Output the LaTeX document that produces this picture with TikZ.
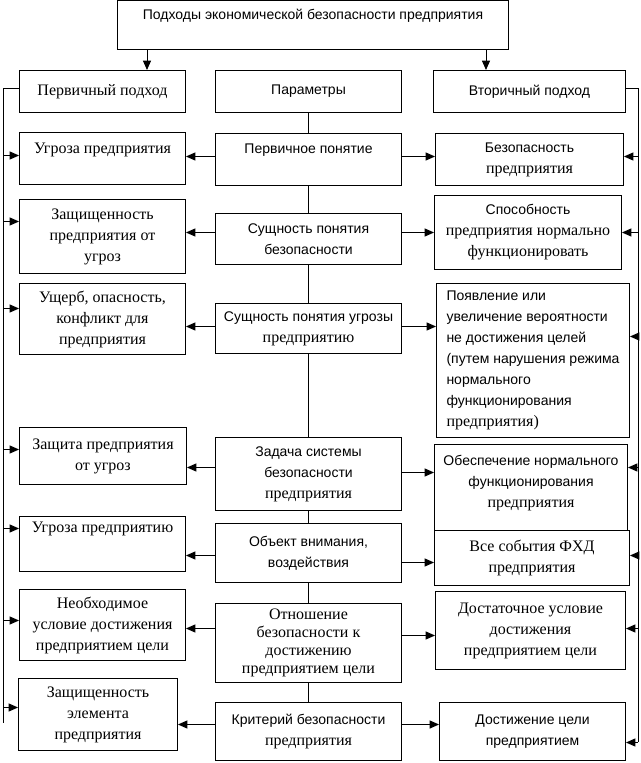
\documentclass[tikz,border=0pt]{standalone}
\usepackage{fontspec}
\setmainfont{Liberation Sans}
\newfontfamily\tms{Liberation Serif}
\usetikzlibrary{arrows.meta,calc}
\newcommand{\tmr}[1]{{\fontsize{12}{15.75}\selectfont\tms #1}}
\tikzset{
  box/.style={draw, fill=white, anchor=north west, inner sep=0pt, align=center},
  sz/.style 2 args={minimum width=#1*0.75pt, minimum height=#2*0.75pt},
  sans/.style={font=\fontsize{10.5}{15.75}\selectfont},
  serif/.style={font=\fontsize{12}{15.75}\selectfont\tms},
  arr/.style={-{Triangle[length=7pt,width=6pt]}},
  rarr/.style={{Triangle[length=7pt,width=6pt]}-},
}
\begin{document}
\begin{tikzpicture}[x=0.75pt, y=-0.75pt, line width=0.75pt]
    \useasboundingbox (0,0) rectangle (641,763);
    % header
    \node [box, sans, sz={391}{48.5}] (top) at (117,0.5) {Подходы экономической безопасности предприятия\\~};
    % first row
    \node [box, serif, sz={166}{42}] (l1) at (19,70) {Первичный подход};
    \node [box, sans, sz={186}{42}] (m1) at (215,70) {Параметры};
    \node [box, sans, sz={192}{42}] (r1) at (433,70) {Вторичный подход};
    % left column
    \node [box, serif, sz={166}{52}] (l2) at (19,132) {Угроза предприятия\\~};
    \node [box, serif, sz={166}{74}] (l3) at (19,199) {Защищенность\\предприятия от\\угроз};
    \node [box, serif, sz={166}{71}] (l4) at (19,283) {Ущерб, опасность,\\конфликт для\\предприятия};
    \node [box, serif, sz={167}{57}] (l5) at (19,427) {Защита предприятия\\от угроз};
    \node [box, serif, sz={166}{55}] (l6) at (19,516) {Угроза предприятию\\[10pt]~};
    \node [box, serif, sz={166}{71}] (l7) at (19,589) {Необходимое\\условие достижения\\предприятием цели};
    \node [box, serif, sz={159}{72}] (l8) at (18,678) {Защищенность\\элемента\\предприятия};
    % middle column
    \node [box, sans, sz={186}{52}] (m2) at (215,133) {Первичное понятие\\~};
    \node [box, sans, sz={186}{51}] (m3) at (215,213) {Сущность понятия\\безопасности};
    \node [box, sans, sz={186}{50}] (m4) at (215,303) {Сущность понятия угрозы\\\tmr{предприятию}};
    \node [box, sans, sz={186}{73}] (m5) at (215,437) {Задача системы\\безопасности\\\tmr{предприятия}};
    \node [box, sans, sz={186}{59}] (m6) at (215,523) {Объект внимания,\\воздействия};
    \node [box, serif, font=\fontsize{12}{13.5}\selectfont\tms, sz={186}{79}] (m7) at (215,603) {Отношение\\безопасности к\\достижению\\предприятием цели};
    \node [box, sans, sz={186}{58}] (m8) at (215,702) {Критерий безопасности\\\tmr{предприятия}};
    % right column
    \node [box, sans, sz={188}{52}] (r2) at (435,133) {Безопасность\\\tmr{предприятия}};
    \node [box, sans, sz={187}{74}] (r3) at (434,195) {Способность\\\tmr{предприятия нормально}\\\tmr{функционировать}};
    \node [box, sans, sz={193}{154}, align=left] (r4) at (436,283) {Появление или\\увеличение вероятности\\не достижения целей\\(путем нарушения режима\\нормального\\функционирования\\\tmr{предприятия)}};
    \node [box, sans, sz={193}{86}] (r5) at (434,444) {Обеспечение нормального\\функционирования\\\tmr{предприятия}\\[-7pt]~};
    \node [box, serif, sz={195}{55}] (r6) at (434,530) {Все события ФХД\\предприятия};
    \node [box, serif, sz={190}{78}] (r7) at (435,591) {Достаточное условие\\достижения\\предприятием цели};
    \node [box, sans, sz={186}{58}] (r8) at (439,702) {Достижение цели\\предприятием};
    % spine
    \draw (m1.south) -- (m2.north) (m2.south) -- (m3.north) (m3.south) -- (m4.north)
          (m4.south) -- (m5.north) (m5.south) -- (m6.north) (m6.south) -- (m7.north)
          (m7.south) -- (m8.north);
    % from header
    \draw[arr] ($(top.south west)+(30,0)$) coordinate (a) -- (a |- l1.north);
    \draw[arr] ($(top.south east)+(-23,0)$) coordinate (a) -- (a |- r1.north);
    % middle to left
    \draw[arr] ($(m2.west)+(0,-3)$) coordinate (a) -- (a -| l2.east);
    \draw[arr] ($(m3.west)+(0,-6.5)$) coordinate (a) -- (a -| l3.east);
    \draw[arr] ($(m4.west)+(0,-2)$) coordinate (a) -- (a -| l4.east);
    \draw[arr] ($(m5.west)+(0,-6.5)$) coordinate (a) -- (a -| l5.east);
    \draw[arr] ($(m6.west)+(0,2.5)$) coordinate (a) -- (a -| l6.east);
    \draw[arr] ($(m7.west)+(0,-14.5)$) coordinate (a) -- (a -| l7.east);
    \draw[arr] ($(m8.west)+(0,-7)$) coordinate (a) -- (a -| l8.east);
    % middle to right
    \draw[arr] ($(m2.east)+(0,-3)$) coordinate (a) -- (a -| r2.west);
    \draw[arr] ($(m3.east)+(0,-6.5)$) coordinate (a) -- (a -| r3.west);
    \draw[arr] ($(m4.east)+(0,-2)$) coordinate (a) -- (a -| r4.west);
    \draw[arr] ($(m5.east)+(0,-1.5)$) coordinate (a) -- (a -| r5.west);
    \draw[arr] ($(m6.east)+(0,9.5)$) coordinate (a) -- (a -| r6.west);
    \draw[arr] ($(m7.east)+(0,-7.5)$) coordinate (a) -- (a -| r7.west);
    \draw[arr] ($(m8.east)+(0,-7)$) coordinate (a) -- (a -| r8.west);
    % left bus
    \coordinate (busL) at (3,723);
    \draw ($(l1.west)+(0,-3)$) coordinate (a) -- (a -| busL) -- (busL);
    \draw[rarr] ($(l2.west)+(0,-3)$) coordinate (a) -- (a -| busL);
    \draw[rarr] ($(l3.west)+(0,-15)$) coordinate (a) -- (a -| busL);
    \draw[rarr] ($(l4.west)+(0,-10.5)$) coordinate (a) -- (a -| busL);
    \draw[rarr] ($(l5.west)+(0,-6.5)$) coordinate (a) -- (a -| busL);
    \draw[rarr] ($(l6.west)+(0,-15.5)$) coordinate (a) -- (a -| busL);
    \draw[rarr] ($(l7.west)+(0,-4.5)$) coordinate (a) -- (a -| busL);
    \draw[rarr] ($(l8.west)+(0,-7)$) coordinate (a) -- (a -| busL);
    % right bus
    \coordinate (busR) at (638,742);
    \draw ($(r1.east)+(0,-3)$) coordinate (a) -- (a -| busR) -- (busR);
    \draw[rarr] ($(r2.east)+(0,-3)$) coordinate (a) -- (a -| busR);
    \draw[rarr] ($(r3.east)+(0,0)$) coordinate (a) -- (a -| busR);
    \draw[rarr] ($(r4.east)+(0,-24)$) coordinate (a) -- (a -| busR);
    \draw[rarr] ($(r5.east)+(0,-20)$) coordinate (a) -- (a -| busR);
    \draw[rarr] ($(r6.east)+(0,-2.5)$) coordinate (a) -- (a -| busR);
    \draw[rarr] ($(r7.east)+(0,-2)$) coordinate (a) -- (a -| busR);
    \draw[rarr] ($(r8.east)+(0,11)$) coordinate (a) -- (a -| busR);
  \end{tikzpicture}
\end{document}
